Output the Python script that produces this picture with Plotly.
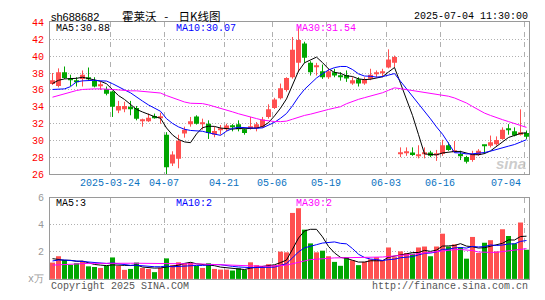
import plotly.graph_objects as go

# ---------------- data ----------------
dates = ["03-10","03-11","03-12","03-13","03-14","03-17","03-18","03-19","03-20","03-21",
         "03-24","03-25","03-26","03-27","03-28","03-31","04-01","04-02","04-03","04-07",
         "04-08","04-09","04-10","04-11","04-14","04-15","04-16","04-17","04-18","04-21",
         "04-22","04-23","04-24","04-25","04-28","04-29","04-30","05-06","05-07","05-08",
         "05-09","05-12","05-13","05-14","05-15","05-16","05-19","05-20","05-21","05-22",
         "05-23","05-26","05-27","05-28","05-29","05-30","06-03","06-04","06-05","06-06",
         "06-09","06-10","06-11","06-12","06-13","06-16","06-17","06-18","06-19","06-20",
         "06-23","06-24","06-25","06-26","06-27","06-30","07-01","07-02","07-03","07-04"]

opens = [36.69,36.46,38.09,37.30,37.10,37.30,37.50,37.07,36.50,36.10,
         35.80,33.55,33.70,34.00,33.85,32.40,32.30,32.90,32.70,30.70,
         27.30,27.86,30.85,31.95,32.85,32.00,32.00,30.70,31.30,31.35,
         31.70,31.95,31.35,31.55,31.45,31.60,32.80,33.85,35.00,36.00,
         37.50,39.20,41.50,39.20,38.70,38.20,37.50,38.10,37.60,37.75,
         36.77,37.25,36.77,37.33,37.85,38.00,38.66,39.20,28.40,28.60,
         28.60,28.20,28.40,28.60,28.30,28.43,29.45,28.65,28.43,28.05,
         27.70,28.30,29.45,29.40,29.57,30.20,31.40,31.10,30.70,30.90]
highs = [38.00,38.55,38.77,37.80,37.50,38.30,38.65,37.50,37.00,36.40,
         35.90,34.70,34.60,34.70,34.10,32.60,33.20,33.20,33.30,31.00,
         28.74,30.70,31.65,32.80,33.00,32.60,32.40,31.65,31.85,32.00,
         31.95,32.40,31.45,32.80,32.20,32.80,34.30,35.06,36.75,37.50,
         42.26,43.40,41.70,39.40,39.20,39.00,38.50,38.50,38.10,38.30,
         37.50,37.50,37.50,38.50,38.30,38.50,40.80,40.06,29.20,29.20,
         29.20,29.45,29.20,28.80,28.90,30.10,29.80,29.95,28.80,28.20,
         28.80,29.00,29.50,30.60,30.50,31.57,31.95,31.57,33.70,31.20]
lows = [36.58,36.30,37.30,36.45,36.40,36.40,37.10,36.30,36.00,35.36,
        32.80,33.25,33.36,33.00,32.40,31.65,32.20,32.60,32.00,25.97,
        27.00,26.73,30.35,31.65,31.90,31.30,30.20,30.40,30.70,31.10,
        31.10,31.10,30.70,31.30,31.10,31.50,32.60,33.74,34.87,35.80,
        37.33,38.10,39.20,37.70,37.70,37.30,37.30,37.50,37.10,36.95,
        36.60,36.40,36.60,37.15,37.50,37.50,38.55,38.66,28.05,28.20,
        28.20,27.90,27.90,28.05,27.60,28.20,28.80,28.60,27.70,27.30,
        27.50,28.20,28.43,29.20,29.40,30.10,30.70,30.50,30.60,30.20]
closes = [37.14,38.09,37.41,37.20,37.00,37.80,37.30,36.40,36.60,35.55,
          34.00,34.10,34.10,33.70,32.60,32.45,32.70,32.75,32.75,26.84,
          28.35,30.00,31.30,32.30,32.00,32.05,30.90,31.15,31.35,31.80,
          31.60,31.35,30.90,31.60,31.95,32.50,33.70,34.87,36.20,37.40,
          40.74,41.90,39.80,38.10,38.85,37.50,38.20,37.70,37.55,37.35,
          37.15,36.77,37.25,37.80,37.90,38.05,39.60,39.90,28.45,28.65,
          28.30,28.25,28.45,28.20,28.35,29.45,28.90,28.70,28.20,27.50,
          28.43,28.80,29.40,29.80,30.06,31.30,31.30,30.60,31.00,30.45]
volumes = [1.21,1.68,1.40,1.04,1.16,1.33,0.93,0.88,0.81,0.97,
           1.59,0.97,0.67,0.74,1.21,0.81,0.74,0.50,0.81,1.52,
           1.02,1.23,1.16,1.21,0.97,0.81,1.16,0.74,0.69,0.69,
           0.62,0.79,0.67,1.23,1.02,0.88,1.09,1.02,2.02,1.97,
           4.89,5.24,3.65,2.63,1.97,2.09,1.68,1.26,0.97,1.61,
           1.38,1.02,1.26,1.45,1.61,1.38,2.33,1.61,2.04,1.92,
           1.87,2.33,2.40,1.68,2.40,3.35,2.40,2.56,2.35,1.50,
           3.11,1.92,2.68,2.87,2.04,3.68,3.18,2.63,4.18,2.16]

# moving-average values at the left edge (window reaches before the shown period)
ma5_head = [36.76,37.14,37.30,37.30]
ma10_head = [36.05,36.08,36.12,36.39,36.95,37.07,37.10,37.14,37.07]
ma30_head = [35.14,35.36,35.55,35.74,35.93,36.05,36.12,36.12,36.12,36.12,
             36.05,36.00,35.93,35.89,35.89,35.82,35.78,35.74,35.63,35.33,
             35.06,34.80,34.57,34.42,34.38,34.38,34.23,34.00,33.81]
vma5_head = [1.50,1.42,1.38,1.38]
vma10_head = [1.33,1.40,1.40,1.36,1.33,1.30,1.26,1.20,1.16]
vma30_head = [1.02,1.05,1.08,1.10,1.12,1.13,1.15,1.15,1.16,1.16,
              1.16,1.16,1.16,1.16,1.16,1.16,1.16,1.15,1.15,1.15,
              1.15,1.14,1.13,1.12,1.11,1.10,1.08,1.06,1.04]

tick_dates = ["03-24","04-07","04-21","05-06","05-19","06-03","06-16","07-04"]
tick_labels = ["2025-03-24","04-07","04-21","05-06","05-19","06-03","06-16","07-04"]
price_ticks = [26,28,30,32,34,36,38,40,42,44]
vol_ticks = [0,2,4,6]
vol_tick_text = ["x万","2","4","6"]
ma_price_labels = ["MA5:30.88","MA10:30.07","MA30:31.54"]
ma_vol_labels = ["MA5:3","MA10:2","MA30:2"]
code = "sh688682"
title = "霍莱沃&nbsp;&nbsp;&nbsp;-&nbsp;&nbsp;&nbsp;&nbsp;日K线图"
stamp = "2025-07-04 11:30:00"
footer_left = "Copyright 2025 SINA.COM"
footer_right = "http://finance.sina.com.cn"

# ---------------- helpers ----------------
RED = "#ff5050"
GREEN = "#00a600"
MA_COLORS = ["#000000", "#0000ff", "#ff00ff"]
MONO = "Liberation Mono"
W, H = 545, 300
L, R = 50, 16


def moving(vals, n, head):
    out = list(head)
    for i in range(n - 1, len(vals)):
        out.append(sum(vals[i - n + 1:i + 1]) / n)
    return out


def px_x(px):
    return (px - L) / (W - L - R)


def px_y(py):
    return 1 - py / H


n = len(dates)
xs = list(range(n))
up = [c >= o for o, c in zip(opens, closes)]
colors = [RED if u else GREEN for u in up]

fig = go.Figure()

# wicks
for flag, col in ((True, RED), (False, GREEN)):
    wx, wy = [], []
    for i in xs:
        if up[i] == flag:
            wx += [i, i, None]
            wy += [lows[i], highs[i], None]
    fig.add_trace(go.Scatter(x=wx, y=wy, mode="lines", line=dict(color=col, width=1),
                             xaxis="x", yaxis="y", hoverinfo="skip"))

# bodies
body_base = [min(o, c) for o, c in zip(opens, closes)]
body_h = [max(abs(c - o), 0.12) for o, c in zip(opens, closes)]
fig.add_trace(go.Bar(x=xs, y=body_h, base=body_base, width=5 / 6,
                     marker=dict(color=colors, line=dict(width=0)),
                     xaxis="x", yaxis="y"))

# price MAs
for vals, col in zip((moving(closes, 5, ma5_head), moving(closes, 10, ma10_head),
                      moving(closes, 30, ma30_head)), MA_COLORS):
    fig.add_trace(go.Scatter(x=xs, y=vals, mode="lines", line=dict(color=col, width=1),
                             xaxis="x", yaxis="y"))

# volume bars
fig.add_trace(go.Bar(x=xs, y=volumes, width=5 / 6,
                     marker=dict(color=colors, line=dict(width=0)),
                     xaxis="x2", yaxis="y2"))
for vals, col in zip((moving(volumes, 5, vma5_head), moving(volumes, 10, vma10_head),
                      moving(volumes, 30, vma30_head)), MA_COLORS):
    fig.add_trace(go.Scatter(x=xs, y=vals, mode="lines", line=dict(color=col, width=1),
                             xaxis="x2", yaxis="y2"))

tick_idx = [dates.index(d) for d in tick_dates]
grid_x = [i - 1 / 3 for i in tick_idx]
xrange = [-2.5 / 6, -2.5 / 6 + (W - L - R) / 6]

axis_common = dict(showline=True, mirror=True, linecolor="#9a9a9a", linewidth=1,
                   zeroline=False, ticks="")
fig.update_layout(
    width=W, height=H,
    margin=dict(l=L, r=R, t=0, b=0),
    paper_bgcolor="white", plot_bgcolor="white",
    showlegend=False, barmode="overlay",
    font=dict(family=MONO, size=10),
    xaxis=dict(domain=[0, 1], range=xrange, anchor="y", tickvals=grid_x,
               showticklabels=False, showgrid=True, gridcolor="#b0b0b0",
               griddash="5px,5px", gridwidth=1, **axis_common),
    yaxis=dict(domain=[px_y(176.5), px_y(18)], range=[26, 44], tickvals=price_ticks,
               tickfont=dict(color="#ff0000", size=10, family=MONO),
               showgrid=True, gridcolor="#b0b0b0", griddash="1px,2px",
               ticklabelstandoff=3, **axis_common),
    xaxis2=dict(domain=[0, 1], range=xrange, anchor="y2", tickvals=grid_x,
                showticklabels=False, showgrid=True, gridcolor="#b0b0b0",
                griddash="5px,5px", gridwidth=1, **axis_common),
    yaxis2=dict(domain=[px_y(285.3), px_y(201)], range=[0, 6], tickvals=vol_ticks,
                ticktext=vol_tick_text, tickfont=dict(color="#999999", size=10, family=MONO),
                showgrid=True, gridcolor="#b0b0b0", griddash="1px,2px",
                ticklabelstandoff=3, **axis_common),
)

ann = []
# date labels
for k, (i, lab) in enumerate(zip(tick_idx, tick_labels)):
    last = k == len(tick_idx) - 1
    ann.append(dict(x=i - 1 / 3, y=px_y(186), xref="x", yref="paper", text=lab,
                    showarrow=False, xanchor="right" if last else "center",
                    xshift=-2 if last else -1,
                    yanchor="middle", font=dict(color="#0a72c0", size=10, family=MONO)))
# MA labels
for lab, col, px in zip(ma_price_labels, MA_COLORS, (54, 174, 294)):
    ann.append(dict(x=px_x(px), y=px_y(24), xref="paper", yref="paper", text=lab,
                    showarrow=False, xanchor="left", yanchor="middle",
                    font=dict(color=col, size=10, family=MONO)))
for lab, col, px in zip(ma_vol_labels, MA_COLORS, (54, 174, 294)):
    ann.append(dict(x=px_x(px), y=px_y(207), xref="paper", yref="paper", text=lab,
                    showarrow=False, xanchor="left", yanchor="middle",
                    font=dict(color=col, size=10, family=MONO)))
# header
ann.append(dict(x=px_x(49), y=px_y(12), xref="paper", yref="paper", text=code,
                showarrow=False, xanchor="left", yanchor="middle",
                font=dict(color="#000000", size=11, family="Liberation Sans")))
ann.append(dict(x=px_x(120), y=px_y(11), xref="paper", yref="paper", text=title,
                showarrow=False, xanchor="left", yanchor="middle",
                font=dict(color="#000000", size=11.5, family="Noto Sans CJK SC")))
ann.append(dict(x=px_x(530), y=px_y(12), xref="paper", yref="paper", text=stamp,
                showarrow=False, xanchor="right", yanchor="middle",
                font=dict(color="#000000", size=10, family=MONO)))
# footer
ann.append(dict(x=px_x(49), y=px_y(293), xref="paper", yref="paper", text=footer_left,
                showarrow=False, xanchor="left", yanchor="middle",
                font=dict(color="#555555", size=10, family=MONO)))
ann.append(dict(x=px_x(530), y=px_y(293), xref="paper", yref="paper", text=footer_right,
                showarrow=False, xanchor="right", yanchor="middle",
                font=dict(color="#555555", size=10, family=MONO)))
# watermark
ann.append(dict(x=px_x(528), y=px_y(165), xref="paper", yref="paper", text="<b><i>sina</i></b>",
                showarrow=False, xanchor="right", yanchor="middle",
                font=dict(color="rgba(190,190,190,0.8)", size=15, family="Liberation Sans")))
fig.update_layout(annotations=ann)

fig.write_html("out.html")
